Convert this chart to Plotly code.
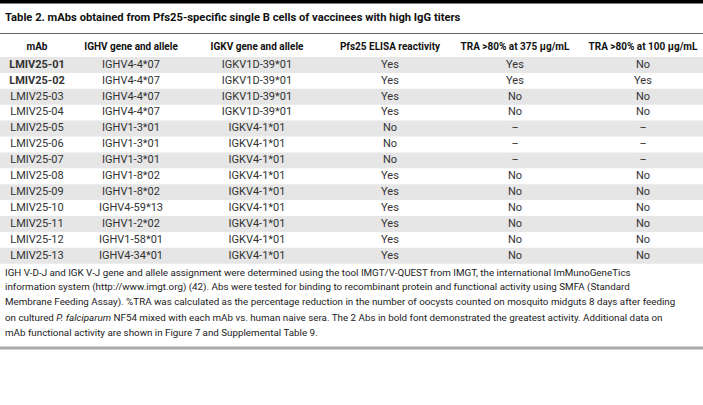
import plotly.graph_objects as go

# ---- data ----
headers = ["mAb", "IGHV gene and allele", "IGKV gene and allele",
           "Pfs25 ELISA reactivity", "TRA >80% at 375 µg/mL", "TRA >80% at 100 µg/mL"]
mabs = ["LMIV25-01", "LMIV25-02", "LMIV25-03", "LMIV25-04", "LMIV25-05", "LMIV25-06",
        "LMIV25-07", "LMIV25-08", "LMIV25-09", "LMIV25-10", "LMIV25-11", "LMIV25-12", "LMIV25-13"]
ighv = ["IGHV4-4*07", "IGHV4-4*07", "IGHV4-4*07", "IGHV4-4*07", "IGHV1-3*01", "IGHV1-3*01",
        "IGHV1-3*01", "IGHV1-8*02", "IGHV1-8*02", "IGHV4-59*13", "IGHV1-2*02", "IGHV1-58*01", "IGHV4-34*01"]
igkv = ["IGKV1D-39*01", "IGKV1D-39*01", "IGKV1D-39*01", "IGKV1D-39*01", "IGKV4-1*01", "IGKV4-1*01",
        "IGKV4-1*01", "IGKV4-1*01", "IGKV4-1*01", "IGKV4-1*01", "IGKV4-1*01", "IGKV4-1*01", "IGKV4-1*01"]
elisa = ["Yes", "Yes", "Yes", "Yes", "No", "No", "No", "Yes", "Yes", "Yes", "Yes", "Yes", "Yes"]
tra375 = ["Yes", "Yes", "No", "No", "–", "–", "–", "No", "No", "No", "No", "No", "No"]
tra100 = ["No", "Yes", "No", "No", "–", "–", "–", "No", "No", "No", "No", "No", "No"]
bold_rows = ["LMIV25-01", "LMIV25-02"]

title = "Table 2. mAbs obtained from Pfs25-specific single B cells of vaccinees with high IgG titers"
footnote_lines = [
    "IGH V-D-J and IGK V-J gene and allele assignment were determined using the tool IMGT/V-QUEST from IMGT, the international ImMunoGeneTics",
    "information system (http://www.imgt.org) (42). Abs were tested for binding to recombinant protein and functional activity using SMFA (Standard",
    "Membrane Feeding Assay). %TRA was calculated as the percentage reduction in the number of oocysts counted on mosquito midguts 8 days after feeding",
    "on cultured <i>P. falciparum</i> NF54 mixed with each mAb vs. human naive sera. The 2 Abs in bold font demonstrated the greatest activity. Additional data on",
    "mAb functional activity are shown in Figure 7 and Supplemental Table 9.",
]

# ---- layout constants (pixel units) ----
W, H = 703, 405
FONT = "Roboto"
GRAY = "#e6e6e6"
col_x = [37, 131, 257, 390, 515, 643]
header_y = 47.5
row_top = 57
row_h = 15.9
foot_y0 = 272
foot_dy = 15.1

columns = [[f"<b>{m}</b>" if m in bold_rows else m for m in mabs], ighv, igkv, elisa, tra375, tra100]
row_y = [row_top + (i + 0.5) * row_h for i in range(len(mabs))]

fig = go.Figure()

# header
fig.add_trace(go.Scatter(x=col_x, y=[header_y] * len(headers), mode="text",
                         text=[f"<b>{h}</b>" for h in headers], textposition="middle center",
                         textfont=dict(family=FONT, size=10, color="#111"),
                         hoverinfo="skip", showlegend=False))
# body
for cx, vals in zip(col_x, columns):
    fig.add_trace(go.Scatter(x=[cx] * len(vals), y=row_y, mode="text", text=vals,
                             textposition="middle center",
                             textfont=dict(family=FONT, size=11, color="#333"),
                             hoverinfo="skip", showlegend=False))

# zebra stripes
for i in range(len(mabs)):
    if i % 2 == 0:
        fig.add_shape(type="rect", xref="x", yref="y", x0=0, x1=W,
                      y0=row_top + i * row_h, y1=row_top + (i + 1) * row_h,
                      fillcolor=GRAY, line_width=0, layer="below")

# rules
fig.add_shape(type="line", xref="x", yref="y", x0=0, x1=W, y0=1.8, y1=1.8,
              line=dict(color="black", width=3.6))
fig.add_shape(type="line", xref="x", yref="y", x0=0, x1=W, y0=33.5, y1=33.5,
              line=dict(color="#666", width=1.2))
fig.add_shape(type="line", xref="x", yref="y", x0=0, x1=W, y0=348, y1=348,
              line=dict(color="#aaa", width=3))

# title & footnote
fig.add_annotation(text=f"<b>{title}</b>", x=3, y=17, xref="x", yref="y",
                   xanchor="left", yanchor="middle", showarrow=False,
                   font=dict(family=FONT, size=11.2, color="#111"))
for k, line in enumerate(footnote_lines):
    fig.add_annotation(text=line, x=3, y=foot_y0 + k * foot_dy, xref="x", yref="y",
                       xanchor="left", yanchor="middle", align="left", showarrow=False,
                       font=dict(family=FONT, size=9.8, color="#222"))

fig.update_xaxes(range=[0, W], visible=False, fixedrange=True)
fig.update_yaxes(range=[H, 0], visible=False, fixedrange=True)
fig.update_layout(width=W, height=H, margin=dict(l=0, r=0, t=0, b=0),
                  paper_bgcolor="white", plot_bgcolor="white", hovermode=False)
fig.write_html("out.html", config={"displayModeBar": False},
               post_script="document.body.style.margin='0';")
